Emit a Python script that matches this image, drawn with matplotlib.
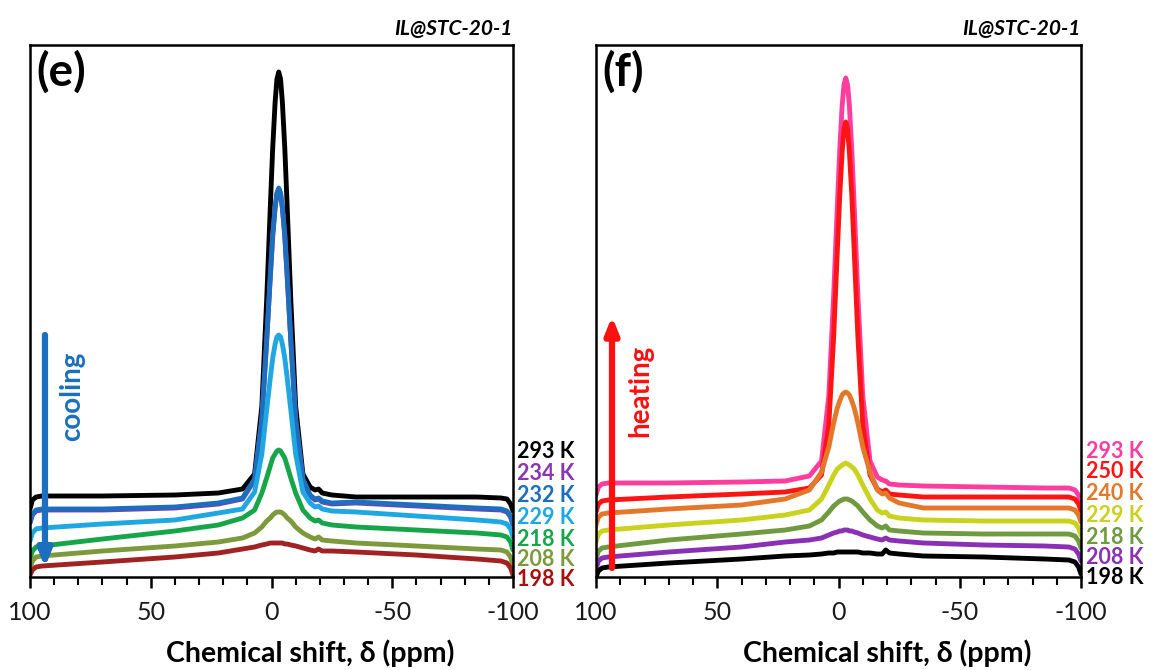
import matplotlib
matplotlib.use("Agg")
import matplotlib.pyplot as plt
from matplotlib.ticker import MultipleLocator

plt.rcParams['font.family'] = ['Lato', 'DejaVu Sans']

# ---------------- data (chemical shift in ppm, intensity in arbitrary units) -------------
ppm = [100, 99, 97.5, 95, 70, 40, 22, 12, 7, 4, 2, 0.5, -0.5, -1.5, -2.25, -3, -3.75, -4.5,
       -5.5, -6.5, -8, -10, -13, -16, -18, -19.5, -21, -25, -35, -60, -85, -95, -97.5, -99, -100]

# panel (e): cooling
e_labels = ["293 K", "234 K", "232 K", "229 K", "218 K", "208 K", "198 K"]
e_colors = ["#000000", "#8c35b0", "#1b6fbe", "#1ea7e1", "#17a54a", "#7c9a3c", "#a02222"]
e_label_colors = ["#000000", "#8c35b0", "#1b6fbe", "#1ea7e1", "#17a54a", "#7c9a3c", "#a81010"]
e_293 = [68, 77, 80, 81, 81, 82, 84, 88, 103, 171, 277, 370, 429, 475, 498, 505, 498, 475,
         429, 370, 277, 171, 103, 90, 87, 88, 84, 82, 80, 80, 80, 79, 78, 73, 66]
e_234 = [54, 62, 66, 67, 67, 69, 73, 78, 97, 157, 236, 300, 341, 369, 383, 388, 383, 369,
         341, 300, 236, 157, 97, 81, 77, 78, 75, 73, 74, 71, 68, 67, 65, 60, 52]
e_232 = [55, 63, 67, 68, 68, 70, 74, 79, 98, 158, 237, 301, 342, 370, 384, 389, 384, 370,
         342, 301, 237, 158, 98, 82, 78, 79, 76, 74, 75, 72, 69, 68, 66, 61, 53]
e_229 = [36, 44, 48, 49, 53, 57, 64, 68, 85, 123, 167, 199, 219, 233, 240, 242, 240, 233,
         219, 199, 167, 123, 85, 74, 70, 71, 68, 66, 65, 61, 57, 55, 53, 48, 40]
e_218 = [18, 26, 30, 31, 38, 46, 52, 59, 67, 84, 99, 111, 119, 123, 126, 127, 126, 123,
         119, 111, 99, 84, 67, 59, 56, 57, 54, 52, 50, 47, 44, 42, 40, 35, 27]
e_208 = [8, 16, 20, 21, 26, 31, 35, 39, 44, 50, 56, 59, 62, 64, 65, 65, 65, 64,
         62, 59, 56, 50, 44, 40, 38, 40, 37, 36, 34, 31, 28, 27, 25, 20, 12]
e_198 = [2, 7, 10, 11, 15, 20, 24, 28, 30, 32, 33, 34, 34, 34, 34, 34, 34, 34,
         33, 33, 32, 31, 29, 27, 26, 28, 26, 26, 25, 22, 18, 16, 14, 9, 2]
e_series = [e_293, e_234, e_232, e_229, e_218, e_208, e_198]

# panel (f): heating
f_labels = ["293 K", "250 K", "240 K", "229 K", "218 K", "208 K", "198 K"]
f_colors = ["#ff3d9e", "#ff1414", "#e4782a", "#c9d21e", "#6f9a3f", "#8a30b4", "#000000"]
f_293 = [82, 90, 93, 94, 94, 95, 96, 101, 116, 181, 281, 370, 426, 471, 492, 499, 492, 471,
         426, 370, 281, 181, 116, 100, 97, 96, 93, 92, 91, 90, 89, 89, 87, 82, 75]
f_250 = [65, 73, 76, 77, 80, 83, 85, 89, 102, 152, 240, 325, 381, 425, 448, 455, 448, 425,
         381, 325, 240, 152, 102, 88, 85, 87, 83, 82, 80, 80, 80, 80, 78, 73, 66]
f_240 = [52, 60, 63, 64, 68, 72, 78, 87, 105, 130, 154, 169, 176, 182, 184, 185, 184, 182,
         176, 169, 154, 130, 105, 87, 83, 84, 79, 74, 69, 69, 69, 69, 67, 62, 55]
f_229 = [35, 43, 46, 47, 52, 57, 62, 67, 78, 92, 102, 108, 110, 112, 113, 114, 113, 112,
         110, 108, 102, 92, 78, 67, 64, 65, 61, 59, 57, 56, 56, 56, 54, 49, 42]
f_218 = [18, 26, 29, 30, 37, 43, 47, 51, 57, 65, 71, 74, 76, 77, 78, 78, 78, 77,
         76, 74, 71, 65, 57, 51, 49, 51, 47, 46, 44, 43, 43, 43, 41, 36, 29]
f_208 = [8, 16, 19, 20, 25, 30, 35, 37, 39, 42, 44, 45, 46, 46, 47, 47, 47, 46,
         46, 45, 44, 42, 40, 38, 37, 39, 37, 36, 34, 32, 31, 30, 28, 23, 16]
f_198 = [0, 6, 9, 10, 14, 18, 21, 22, 23, 24, 24, 25, 25, 25, 25, 25, 25, 25,
         25, 25, 25, 24, 24, 23, 23, 27, 24, 23, 21, 20, 18, 17, 15, 10, 3]
f_series = [f_293, f_250, f_240, f_229, f_218, f_208, f_198]

x_ticks = [100, 50, 0, -50, -100]
x_label = "Chemical shift, δ (ppm)"
title = "IL@STC-20-1"

# ---------------- figure -------------------------------------------------------------
W, H = 1157, 670
fig = plt.figure(figsize=(W / 100, H / 100), dpi=100)

def px_axes(x0, x1, y0, y1):
    return fig.add_axes([x0 / W, 1 - y1 / H, (x1 - x0) / W, (y1 - y0) / H])

ax_e = px_axes(30, 513, 45, 577)
ax_f = px_axes(596, 1081, 45, 577)

def style(ax, label_x):
    ax.set_xlim(100, -100)
    ax.set_ylim(0, 532)
    ax.set_yticks([])
    ax.set_xticks(x_ticks)
    ax.set_xticklabels([str(t) for t in x_ticks], fontsize=18, color='#1a1a1a')
    ax.xaxis.set_minor_locator(MultipleLocator(10))
    ax.tick_params(axis='x', which='major', direction='out', length=8, width=1.8, pad=9)
    ax.tick_params(axis='x', which='minor', direction='out', length=6, width=1.5)
    for s in ax.spines.values():
        s.set_linewidth(1.8)
    ax.set_xlabel(x_label, fontsize=20.5, fontweight='bold')
    ax.xaxis.set_label_coords(label_x, -0.117)
    ax.text(1.0, 1.012, title, transform=ax.transAxes, ha='right', va='bottom',
            fontsize=15, fontweight='bold', style='italic')

style(ax_e, 0.58)
style(ax_f, 0.60)

for ys, c in zip(e_series, e_colors):
    ax_e.plot(ppm, ys, color=c, lw=3.5, solid_joinstyle='round', solid_capstyle='round')
for ys, c in zip(f_series, f_colors):
    ax_f.plot(ppm, ys, color=c, lw=3.5, solid_joinstyle='round', solid_capstyle='round')

ax_e.text(0.014, 0.99, "(e)", transform=ax_e.transAxes, ha='left', va='top',
          fontsize=33, fontweight='bold')
ax_f.text(0.014, 0.99, "(f)", transform=ax_f.transAxes, ha='left', va='top',
          fontsize=33, fontweight='bold')

# arrows
blue = "#1b6fbe"
red = "#ff1010"
ax_e.annotate("", xy=(0.031, 0.018), xytext=(0.031, 0.455), xycoords='axes fraction',
              arrowprops=dict(arrowstyle='-|>,head_length=1.0,head_width=0.4', lw=4.5,
                              color=blue, shrinkA=0, shrinkB=0))
ax_e.text(0.088, 0.34, "cooling", transform=ax_e.transAxes, rotation=90, ha='center',
          va='center', fontsize=20, fontweight='bold', color=blue)
ax_f.annotate("", xy=(0.033, 0.49), xytext=(0.033, 0.017), xycoords='axes fraction',
              arrowprops=dict(arrowstyle='-|>,head_length=1.0,head_width=0.4', lw=4.5,
                              color=red, shrinkA=0, shrinkB=0))
ax_f.text(0.091, 0.35, "heating", transform=ax_f.transAxes, rotation=90, ha='center',
          va='center', fontsize=20, fontweight='bold', color=red)

# temperature labels
e_label_y = [452, 474, 496, 518, 540, 560, 580]
f_label_y = [452, 472, 494, 516, 538, 558, 578]
for lab, c, yp in zip(e_labels, e_label_colors, e_label_y):
    fig.text(517 / W, 1 - yp / H, lab, color=c, fontsize=15.5, fontweight='bold',
             ha='left', va='center')
for lab, c, yp in zip(f_labels, f_colors, f_label_y):
    fig.text(1086 / W, 1 - yp / H, lab, color=c, fontsize=15.5, fontweight='bold',
             ha='left', va='center')

fig.savefig("out.png", dpi=100)
